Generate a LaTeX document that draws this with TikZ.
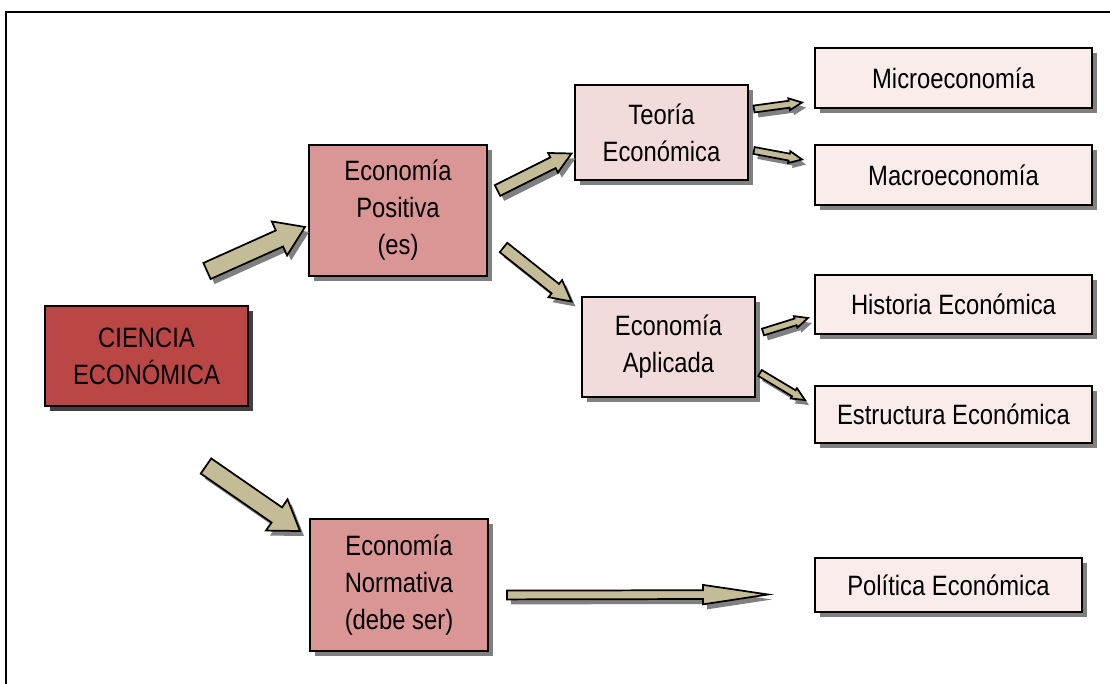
\documentclass[tikz,border=0pt]{standalone}
\usepackage{fontspec}
\setmainfont{Liberation Sans}[FakeStretch=0.85]
\usetikzlibrary{calc,shadows}
\definecolor{cred}{HTML}{BA4745}
\definecolor{cpos}{HTML}{D99694}
\definecolor{cmid}{HTML}{F2DCDB}
\definecolor{clight}{HTML}{F9ECEB}
\definecolor{carrow}{HTML}{C4BC96}
\definecolor{shgray}{HTML}{808080}
\definecolor{shdark}{HTML}{404040}
\newcommand\blockarr[5]{%
  \draw[arrowstyle] let \p1=(#1),\p2=(#2),
    \n1={atan2(\y2-\y1,\x2-\x1)},
    \n2={veclen(\x2-\x1,\y2-\y1)-#5} in
    ($(\p1)+(\n1+90:#3pt)$) -- ($(\p1)+(\n1:\n2)+(\n1+90:#3pt)$) --
    ($(\p1)+(\n1:\n2)+(\n1+90:#4pt)$) -- (\p2) --
    ($(\p1)+(\n1:\n2)+(\n1-90:#4pt)$) -- ($(\p1)+(\n1:\n2)+(\n1-90:#3pt)$) --
    ($(\p1)+(\n1-90:#3pt)$) -- cycle;}
\tikzset{
  box/.style={draw=black, line width=1.4pt, inner sep=0pt, align=center,
    font=\fontsize{21}{27.75}\selectfont,
    drop shadow={shadow xshift=3.75pt, shadow yshift=-3.75pt, fill=shgray, opacity=1}},
  darkbox/.style={box, drop shadow={shadow xshift=3.75pt, shadow yshift=-3.75pt, fill=shdark, opacity=1}},
  arrowstyle/.style={draw=black, line width=1.3pt, fill=carrow, line join=miter,
    preaction={fill=shgray, draw=none, transform canvas={shift={(3pt,-3.75pt)}}}},
}
\begin{document}
\begin{tikzpicture}[x=0.75pt, y=-0.75pt]
\useasboundingbox (0,0) rectangle (1110,684);
\fill[white] (0,0) rectangle (1110,684);
\draw[line width=1.5pt] (6,690) -- (6,12.5) -- (1115,12.5);

\node[darkbox, fill=cred, minimum width=152.25pt, minimum height=75pt] (ciencia) at (146.5,356) {CIENCIA\\ECONÓMICA};
\node[box, fill=cpos, minimum width=133.5pt, minimum height=98.25pt] (positiva) at (398,210.5) {Economía\\Positiva\\(es)};
\node[box, fill=cpos, minimum width=133.5pt, minimum height=99pt] (normativa) at (399,585) {Economía\\Normativa\\(debe ser)};
\node[box, fill=cmid, minimum width=129.75pt, minimum height=71.25pt] (teoria) at (661.5,132.5) {Teoría\\Económica};
\node[box, fill=cmid, minimum width=129.75pt, minimum height=75pt] (aplicada) at (668.5,347) {Economía\\Aplicada};
\node[box, fill=clight, minimum width=207.75pt, minimum height=45pt] (micro) at (953.5,78) {Microeconomía};
\node[box, fill=clight, minimum width=207.75pt, minimum height=45pt] (macro) at (953.5,175) {Macroeconomía};
\node[box, fill=clight, minimum width=207.75pt, minimum height=44.25pt] (historia) at (953.5,304.5) {Historia Económica};
\node[box, fill=clight, minimum width=207.75pt, minimum height=42.75pt] (estructura) at (953.5,414.5) {Estructura Económica};
\node[box, fill=clight, minimum width=200.25pt, minimum height=40.5pt] (politica) at (948.5,585) {Política Económica};

\coordinate (a1s) at (207,271);   \coordinate (a1e) at (305,227);
\coordinate (a2s) at (206,466);   \coordinate (a2e) at (300,531);
\coordinate (a3s) at (497.5,190.5); \coordinate (a3e) at (571.5,153.5);
\coordinate (a4s) at (503.5,247.5); \coordinate (a4e) at (571.5,301.5);
\coordinate (a5s) at (754,109);   \coordinate (a5e) at (802,102.5);
\coordinate (a6s) at (754,150.5); \coordinate (a6e) at (802,159.5);
\coordinate (a7s) at (763,332);   \coordinate (a7e) at (808,318);
\coordinate (a8s) at (760,373);   \coordinate (a8e) at (805,400);
\coordinate (a9s) at (507,595);   \coordinate (a9e) at (768,594.5);

\blockarr{a1s}{a1e}{6.6}{14}{21}
\blockarr{a2s}{a2e}{6.9}{14.25}{21}
\blockarr{a3s}{a3e}{4.5}{8.2}{15.5}
\blockarr{a4s}{a4e}{4.5}{8.2}{15.5}
\blockarr{a5s}{a5e}{2.6}{4.5}{9.75}
\blockarr{a6s}{a6e}{2.6}{4.5}{9.75}
\blockarr{a7s}{a7e}{2.6}{4.5}{9.75}
\blockarr{a8s}{a8e}{2.6}{4.5}{9.75}
\blockarr{a9s}{a9e}{3.3}{7.3}{48.75}
\end{tikzpicture}
\end{document}
